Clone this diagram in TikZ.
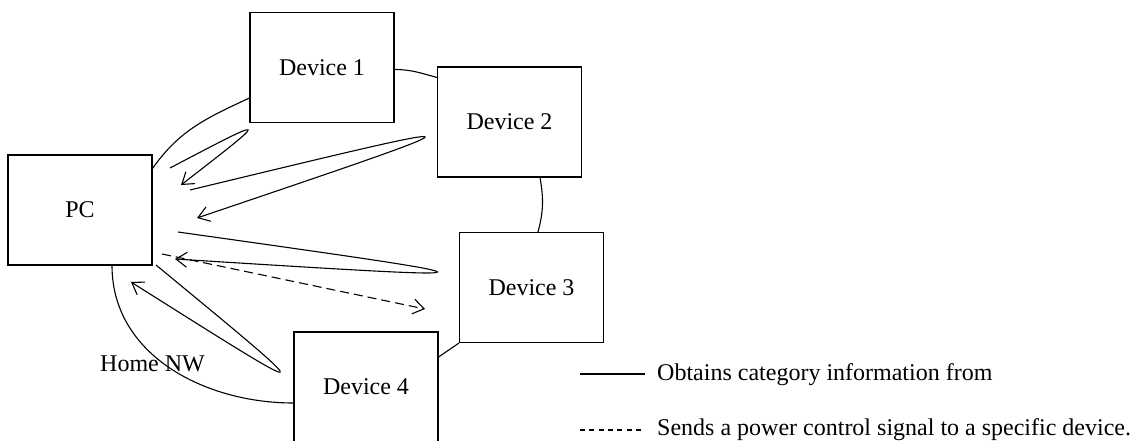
\documentclass[tikz,border=0pt]{standalone}
\usepackage{fontspec}
\setmainfont{Liberation Serif}
\usetikzlibrary{arrows.meta}
\begin{document}
\begin{tikzpicture}[x=1pt,y=1pt,
  box/.style={draw, line width=1.1pt, minimum width=144pt, minimum height=110pt, inner sep=0pt, font=\fontsize{24}{28}\selectfont},
  link/.style={line width=1.1pt},
  barb/.style={-{Straight Barb[length=11pt,width=15pt,line width=1.1pt]}},
  loopline/.style={line width=1.1pt, barb},
  ctrl/.style={line width=1.1pt, dash pattern=on 9pt off 5pt, barb},
  lbl/.style={font=\fontsize{24}{28}\selectfont, inner sep=0pt}
]
\useasboundingbox (0,0) rectangle (1145,440);
\clip (0,0) rectangle (1145,440);

% boxes
\node[box] (PC) at (80,230) {PC};
\node[box] (D1) at (322,372.5) {Device 1};
\node[box] (D2) at (509.5,318) {Device 2};
\node[box] (D3) at (531.5,152.5) {Device 3};
\node[box] (D4) at (366,53) {Device 4};

% home network ring
\draw[link] ([yshift=-14pt]PC.north east) to[out=55,in=205] ([yshift=-30.5pt]D1.west);
\draw[link] ([yshift=-2pt]D1.east) to[out=0,in=165] ([yshift=-11pt]D2.north west);
\draw[link] ([xshift=30.5pt]D2.south) to[out=-80,in=75] ([xshift=6.5pt]D3.north);
\draw[link] (D3.south west) -- ([yshift=30pt]D4.east);
\draw[link] ([yshift=-16pt]D4.west) to[out=180,in=-90] ([xshift=32pt]PC.south);

\node[lbl, anchor=base west] (hnw) at (100,69) {Home NW};

% obtaining category information (loops)
\coordinate (s1) at (170,272); \coordinate (c1) at (272,325.5); \coordinate (e1) at (181,255);
\draw[loopline] (s1) .. controls (c1) and (c1) .. (e1);
\coordinate (s2) at (190,250); \coordinate (c2) at (502,325.3); \coordinate (e2) at (197,222);
\draw[loopline] (s2) .. controls (c2) and (c2) .. (e2);
\coordinate (s3) at (178,208); \coordinate (c3) at (524,159.2); \coordinate (e3) at (175,181);
\draw[loopline] (s3) .. controls (c3) and (c3) .. (e3);
\coordinate (s5) at (156,175); \coordinate (c5) at (325.5,35.2); \coordinate (e5) at (131,158);
\draw[loopline] (s5) .. controls (c5) and (c5) .. (e5);

% power control signal
\coordinate (p0) at (162,186); \coordinate (p1) at (425,131);
\draw[ctrl] (p0) -- (p1);

% legend
\coordinate (l1a) at (580,66); \coordinate (l1b) at (645,66);
\draw[line width=1.3pt] (l1a) -- (l1b);
\node[lbl, anchor=base west] (t1) at (657,60) {Obtains category information from};
\coordinate (l2a) at (580,10); \coordinate (l2b) at (645,10);
\draw[line width=1.1pt, dash pattern=on 5pt off 4.3pt] (l2a) -- (l2b);
\node[lbl, anchor=base west] (t2) at (657,5) {Sends a power control signal to a specific device.};
\end{tikzpicture}
\end{document}
